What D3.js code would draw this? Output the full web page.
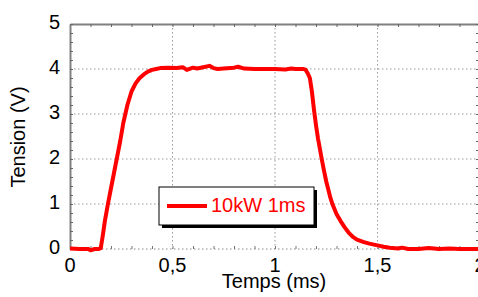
<!DOCTYPE html>
<html>
<head>
<meta charset="utf-8">
<script src="https://cdn.jsdelivr.net/npm/d3@7"></script>
<style>
  body { margin: 0; background: #fff; }
  text { font-family: "Liberation Sans", Arial, sans-serif; }
</style>
</head>
<body>
<script>
// data
var temps = [0, 0.05, 0.09, 0.1, 0.12, 0.14, 0.15, 0.16, 0.17, 0.185, 0.2, 0.215, 0.23, 0.245,
  0.26, 0.28, 0.30, 0.32, 0.34, 0.36, 0.38, 0.40, 0.42, 0.44, 0.48, 0.52, 0.55, 0.57, 0.60,
  0.62, 0.65, 0.68, 0.70, 0.72, 0.75, 0.80, 0.82, 0.85, 0.90, 0.95, 1.0, 1.05, 1.08, 1.10,
  1.14, 1.15, 1.16, 1.17, 1.18, 1.19, 1.20, 1.21, 1.22, 1.23, 1.24, 1.25, 1.26, 1.27, 1.28,
  1.30, 1.32, 1.34, 1.36, 1.38, 1.40, 1.43, 1.46, 1.50, 1.53, 1.56, 1.60, 1.62, 1.65, 1.70,
  1.75, 1.80, 1.85, 1.90, 1.95, 2.0];
var tension = [0.01, 0.0, 0.0, -0.03, 0.0, 0.0, 0.02, 0.3, 0.62, 1.0, 1.35, 1.7, 2.05, 2.4,
  2.8, 3.2, 3.5, 3.68, 3.8, 3.88, 3.94, 3.98, 4.0, 4.02, 4.03, 4.02, 4.04, 3.98, 4.03,
  4.01, 4.04, 4.07, 4.02, 4.0, 4.01, 4.03, 4.05, 4.01, 4.0, 4.0, 4.0, 3.99, 4.01, 4.0,
  4.0, 3.98, 3.9, 3.8, 3.5, 3.1, 2.75, 2.45, 2.2, 1.95, 1.72, 1.5, 1.32, 1.14, 1.0,
  0.78, 0.62, 0.48, 0.36, 0.27, 0.21, 0.16, 0.12, 0.08, 0.05, 0.03, 0.01, 0.03, 0.0, 0.0,
  0.02, 0.0, 0.01, 0.0, 0.0, 0.0];

var xTicks = [0, 0.5, 1, 1.5, 2];
var yTicks = [0, 1, 2, 3, 4, 5];
var legendLabel = "10kW 1ms";

//set up svg
var width = 478;
var height = 297;
var plot = {left: 70, right: 480, top: 24, bottom: 249};

var svg = d3.select("body").append("svg")
  .attr("width", width)
  .attr("height", height);

var xChart = d3.scaleLinear().domain([0, 2]).range([plot.left, plot.right]);
var yChart = d3.scaleLinear().domain([0, 5]).range([plot.bottom, plot.top]);

var fmt = function(d) { return String(d).replace(".", ","); };

//grid lines (dotted)
svg.append("g").selectAll("line")
  .data(yTicks.slice(1, 5))
  .enter().append("line")
  .attr("x1", plot.left).attr("x2", plot.right)
  .attr("y1", function(d) { return yChart(d); })
  .attr("y2", function(d) { return yChart(d); })
  .attr("stroke", "#999").attr("stroke-dasharray", "1.5,2.5");

svg.append("g").selectAll("line")
  .data(xTicks.slice(1, 4))
  .enter().append("line")
  .attr("x1", function(d) { return xChart(d); })
  .attr("x2", function(d) { return xChart(d); })
  .attr("y1", plot.top).attr("y2", plot.bottom)
  .attr("stroke", "#999").attr("stroke-dasharray", "1.5,2.5");

//bottom axis is dotted too, ticks point up
svg.append("line")
  .attr("x1", plot.left).attr("x2", plot.right)
  .attr("y1", plot.bottom).attr("y2", plot.bottom)
  .attr("stroke", "#888").attr("stroke-dasharray", "1.5,2.5");

var minorX = d3.range(0, 21).map(function(i) { return i / 10; });
svg.append("g")
  .attr("transform", "translate(0," + plot.bottom + ")")
  .call(d3.axisBottom(xChart).tickValues(minorX).tickSize(-3).tickFormat(""))
  .call(function(g) {
    g.select(".domain").remove();
    g.selectAll("line").attr("stroke", "#777");
  });

//top axis with minor ticks
svg.append("g")
  .attr("transform", "translate(0," + plot.top + ")")
  .call(d3.axisTop(xChart).tickValues(minorX).tickSize(-3).tickSizeOuter(0).tickFormat(""))
  .call(function(g) {
    g.select(".domain").attr("stroke", "#808080").attr("stroke-width", 2);
    g.selectAll("line").attr("stroke", "#666");
  });

//left and right axes
var minorY = d3.range(0, 26).map(function(i) { return i / 5; });
svg.append("g")
  .attr("transform", "translate(" + plot.left + ",0)")
  .call(d3.axisLeft(yChart).tickValues(minorY).tickSize(-3).tickSizeOuter(0).tickFormat(""))
  .call(function(g) {
    g.select(".domain").attr("stroke", "#808080").attr("stroke-width", 2);
    g.selectAll("line").attr("stroke", "#666");
  });

svg.append("g")
  .attr("transform", "translate(" + (plot.right - 1) + ",0)")
  .call(d3.axisRight(yChart).tickValues(minorY).tickSize(-3).tickSizeOuter(0).tickFormat(""))
  .call(function(g) {
    g.select(".domain").attr("stroke", "#808080").attr("stroke-width", 2);
    g.selectAll("line").attr("stroke", "#666");
  });

//tick labels
svg.append("g").selectAll("text")
  .data(yTicks)
  .enter().append("text")
  .attr("x", plot.left - 10)
  .attr("y", function(d) { return yChart(d); })
  .attr("dy", "0.24em")
  .attr("text-anchor", "end")
  .attr("font-size", 20)
  .text(function(d) { return d; });

svg.append("g").selectAll("text")
  .data(xTicks)
  .enter().append("text")
  .attr("x", function(d) { return xChart(d); })
  .attr("y", plot.bottom + 23)
  .attr("text-anchor", "middle")
  .attr("font-size", 20)
  .text(fmt);

//axis titles
svg.append("text")
  .attr("transform", "translate(25,137) rotate(-90)")
  .attr("text-anchor", "middle")
  .attr("font-size", 20)
  .text("Tension (V)");

svg.append("text")
  .attr("x", 274)
  .attr("y", 288)
  .attr("text-anchor", "middle")
  .attr("font-size", 20)
  .text("Temps (ms)");

//the trace
var line = d3.line()
  .x(function(d) { return xChart(d[0]); })
  .y(function(d) { return yChart(d[1]); });

svg.append("path")
  .datum(d3.zip(temps, tension))
  .attr("d", line)
  .attr("fill", "none")
  .attr("stroke", "#ff0000")
  .attr("stroke-width", 4)
  .attr("stroke-linejoin", "round");

//legend box with shadow
var lx = 159, ly = 187, lw = 155, lh = 38;
svg.append("rect")
  .attr("x", lx + 3).attr("y", ly + 3)
  .attr("width", lw).attr("height", lh)
  .attr("fill", "#000");
svg.append("rect")
  .attr("x", lx).attr("y", ly)
  .attr("width", lw).attr("height", lh)
  .attr("fill", "#fff").attr("stroke", "#000").attr("stroke-width", 1);
svg.append("line")
  .attr("x1", lx + 8).attr("x2", lx + 48)
  .attr("y1", ly + 19).attr("y2", ly + 19)
  .attr("stroke", "#ff0000").attr("stroke-width", 4);
svg.append("text")
  .attr("x", lx + 52)
  .attr("y", ly + 25)
  .attr("fill", "#ff0000")
  .attr("font-size", 20)
  .text(legendLabel);
</script>
</body>
</html>
